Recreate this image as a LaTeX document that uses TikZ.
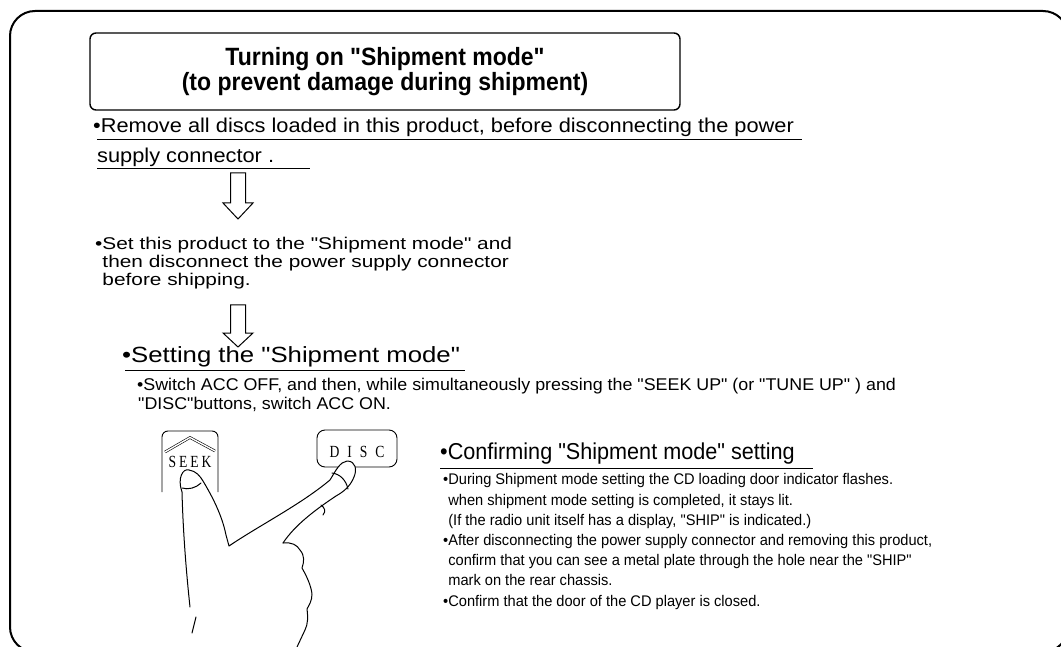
\documentclass[tikz,border=0pt]{standalone}
\usepackage{fontspec}
\defaultfontfeatures{Ligatures=TeXOff}
\setmainfont{Liberation Sans}
\newfontfamily\headfont[FakeStretch=0.92]{Liberation Sans}
\newfontfamily\introfont[FakeStretch=1.09]{Liberation Sans}
\newfontfamily\stepfont[FakeStretch=1.225]{Liberation Sans}
\newfontfamily\setfont[FakeStretch=1.17]{Liberation Sans}
\newfontfamily\switchfont[FakeStretch=1.05]{Liberation Sans}
\newfontfamily\checkheadfont[FakeStretch=0.94]{Liberation Sans}
\newfontfamily\checkfont[FakeStretch=0.95]{Liberation Sans}
\newfontfamily\keyfont[FakeStretch=0.8]{Liberation Serif}
\usetikzlibrary{positioning, calc}

\tikzstyle{panel} = [line width=2pt, rounded corners=25pt]
\tikzstyle{headbox} = [draw, line width=1.4pt, rounded corners=6pt, minimum width=590pt, minimum height=77pt, align=center, inner sep=0pt, font=\headfont\bfseries\fontsize{25}{28}\selectfont]
\tikzstyle{note} = [anchor=base west, inner sep=0pt, align=left]
\tikzstyle{bigline} = [note, font=\introfont\fontsize{20}{30}\selectfont]
\tikzstyle{stepline} = [note, font=\stepfont\fontsize{17}{18}\selectfont]
\tikzstyle{heading} = [note, font=\setfont\fontsize{22}{26}\selectfont]
\tikzstyle{switchline} = [note, font=\switchfont\fontsize{17}{19.5}\selectfont]
\tikzstyle{checkhead} = [note, font=\checkheadfont\fontsize{23}{26}\selectfont]
\tikzstyle{finenote} = [note, font=\checkfont\fontsize{15.4}{20.2}\selectfont]
\tikzstyle{textrule} = [line width=1pt]
\tikzstyle{flowarrow} = [draw, line width=1pt, fill=white, line join=miter]
\tikzstyle{keycap} = [line width=0.9pt]
\tikzstyle{keylabel} = [anchor=base, inner sep=0pt, font=\keyfont\fontsize{17}{17}\selectfont]
\tikzstyle{hand} = [line width=1pt, line join=round, line cap=round]

\begin{document}
\begin{tikzpicture}[x=1pt, y=-1pt]
\useasboundingbox (0,0) rectangle (1061,647);
\draw[panel] (10,11) rectangle (1068,652);

% heading
\node[headbox] (title) at (385,71.5) {\raisebox{-3pt}{Turning on "Shipment mode"}\\(to prevent damage during shipment)};

% step 1
\node[bigline] (remove) at (93,133) {•Remove all discs loaded in this product, before disconnecting the power};
\node[bigline] (remove2) at (97,163) {supply connector .};
\draw[textrule] (97,140) -- (802,140);
\draw[textrule] (97,169) -- (310,169);

\draw[flowarrow] (230.5,173) -- (245.5,173) -- (245.5,203) -- (253,203) -- (238,219) -- (223,203) -- (230.5,203) -- cycle;

% step 2 (base anchor sits on the last line)
\node[stepline] (ship) at (95,286) {•Set this product to the "Shipment mode" and\\
\phantom{•}then disconnect the power supply connector\\
\phantom{•}before shipping.};

\draw[flowarrow] (230.5,305) -- (245.5,305) -- (245.5,333) -- (253,333) -- (238,347) -- (223,333) -- (230.5,333) -- cycle;

% setting
\node[heading] (setting) at (122,362) {•Setting the "Shipment mode"};
\draw[textrule] (125,370) -- (465,370);
\node[switchline] (switch) at (137,409.5) {•Switch ACC OFF, and then, while simultaneously pressing the "SEEK UP" (or "TUNE UP" ) and\\
\hspace{1pt}"DISC"buttons, switch ACC ON.};

% buttons
\draw[keycap, rounded corners=6pt] (162,492) -- (162,431) -- (218,431) -- (218,492);
\draw[line width=0.6pt, double, double distance=1.4pt] (165,452) -- (190,437.5) -- (215,451);
\node[keylabel] (seek) at (190,467) {S\hspace{3pt}E\hspace{3pt}E\hspace{3pt}K};
\draw[keycap, rounded corners=8pt] (317,430) rectangle (397,467);
\node[keylabel] (disc) at (357,457) {D\hspace{8pt}I\hspace{8pt}S\hspace{8pt}C};

% hand
\fill[white] (190,607) .. controls (186,570) and (183,530) .. (182,492)
  .. controls (177,478) and (183,468) .. (189,470)
  .. controls (196,471) and (200,476) .. (203,481)
  .. controls (212,496) and (222,515) .. (226,535)
  -- (229,546)
  .. controls (260,525) and (300,505) .. (330,480)
  .. controls (336,470) and (340,462) .. (347,461)
  .. controls (356,461) and (357,470) .. (354,477)
  .. controls (350,487) and (343,492) .. (336,496)
  .. controls (315,510) and (295,525) .. (283,543)
  .. controls (292,542) and (297,545) .. (300,550)
  .. controls (305,556) and (304,562) .. (302,568)
  .. controls (306,575) and (311,585) .. (312,594)
  .. controls (312,601) and (309,605) .. (307,609)
  .. controls (308,617) and (308,624) .. (305,630)
  -- (297,647) -- (190,647) -- cycle;
\draw[hand] (190,607) .. controls (186,570) and (183,530) .. (182,492)
  .. controls (177,478) and (183,468) .. (189,470)
  .. controls (196,471) and (200,476) .. (203,481)
  .. controls (212,496) and (222,515) .. (226,535)
  -- (229,546)
  .. controls (260,525) and (300,505) .. (330,480)
  .. controls (336,470) and (340,462) .. (347,461)
  .. controls (356,461) and (357,470) .. (354,477)
  .. controls (350,487) and (343,492) .. (336,496)
  .. controls (315,510) and (295,525) .. (283,543);
\draw[hand] (283,543)
  .. controls (292,542) and (297,545) .. (300,550)
  .. controls (305,556) and (304,562) .. (302,568)
  .. controls (306,575) and (311,585) .. (312,594)
  .. controls (312,601) and (309,605) .. (307,609)
  .. controls (308,617) and (308,624) .. (305,630)
  -- (297,647);
\draw[hand] (196,617) -- (192,633);
\draw[hand] (182,488) .. controls (188,490) and (196,488) .. (201,483);
\draw[hand] (332,473) .. controls (340,474) and (346,480) .. (348,489);
\draw[hand] (321,505) .. controls (325,508) and (326,511) .. (323,515);

% confirming
\node[checkhead] (confirm) at (440,459) {•Confirming "Shipment mode" setting};
\draw[textrule] (440,468) -- (813,468);
\node[finenote] (checks) at (443,606) {•During Shipment mode setting the CD loading door indicator flashes.\\
\phantom{•}when shipment mode setting is completed, it stays lit.\\
\phantom{•}(If the radio unit itself has a display, "SHIP" is indicated.)\\
•After disconnecting the power supply connector and removing this product,\\
\phantom{•}confirm that you can see a metal plate through the hole near the "SHIP"\\
\phantom{•}mark on the rear chassis.\\
•Confirm that the door of the CD player is closed.};
\end{tikzpicture}
\end{document}
